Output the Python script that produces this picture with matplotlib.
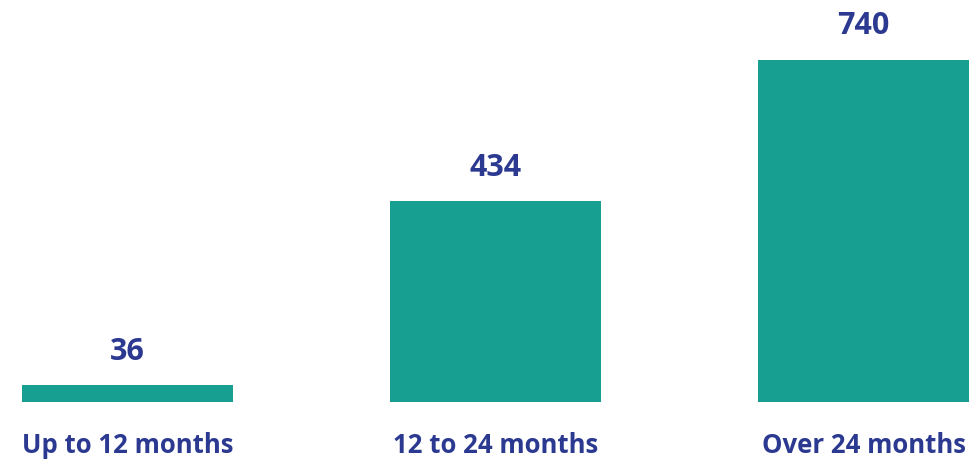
import matplotlib
matplotlib.use("Agg")
import matplotlib.pyplot as plt

# data
categories = ["Up to 12 months", "12 to 24 months", "Over 24 months"]
values = [36, 434, 740]

bar_color = "#17a092"
text_color = "#2b3990"

plt.rcParams['font.family'] = ['Open Sans', 'DejaVu Sans']

fig = plt.figure(figsize=(9.76, 4.63), dpi=100)
ax = fig.add_axes([0, 61 / 463, 1, 402 / 463])

x = list(range(len(categories)))
ax.bar(x, values, width=0.576, color=bar_color)

for xi, v, cat in zip(x, values, categories):
    # value above the bar
    ax.annotate(str(v), (xi, v), xytext=(0, 18.5), textcoords='offset points',
                ha='center', va='baseline', fontsize=22, fontweight='bold',
                color=text_color)
    # category under the baseline
    ax.annotate(cat, (xi, 0), xytext=(0, -36.5), textcoords='offset points',
                ha='center', va='baseline', fontsize=18.5, fontweight='bold',
                color=text_color, annotation_clip=False)

ax.set_xlim(-0.3465, 2.3057)
ax.set_ylim(0, 870)
ax.axis('off')

fig.savefig("out.png", dpi=100)
